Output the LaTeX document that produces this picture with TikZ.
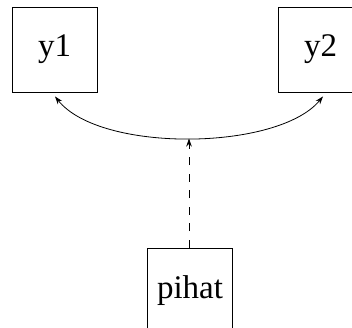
\documentclass[tikz,border=0pt]{standalone}
\usepackage{fontspec}
\setmainfont{Liberation Serif}
\usetikzlibrary{arrows.meta}
\begin{document}
\begin{tikzpicture}[x=1pt,y=1pt,
  var/.style={draw, line width=0.9pt, minimum width=85pt, minimum height=85pt,
    inner sep=0pt, font=\fontsize{33}{36}\selectfont},
  link/.style={line width=0.8pt, -{Stealth[length=8pt,width=5.5pt]}},
  dash link/.style={link, dash pattern=on 8pt off 8.5pt}]
\useasboundingbox (0,0) rectangle (352,328);
\node[var] (y1) at (54.5,278.5) {y1};
\node[var] (y2) at (320.5,278.5) {y2};
\node[var] (pihat) at (190,37.5) {pihat};
\coordinate (mid) at (189,189.5);
\draw[link, {Stealth[length=8pt,width=5.5pt]}-{Stealth[length=8pt,width=5.5pt]}]
  ([xshift=0.5pt,yshift=-4pt]y1.south) .. controls (100,175) and (278,177) .. ([xshift=2.5pt,yshift=-4pt]y2.south);
\draw[dash link] (pihat.north -| mid) -- (mid);
\end{tikzpicture}
\end{document}
